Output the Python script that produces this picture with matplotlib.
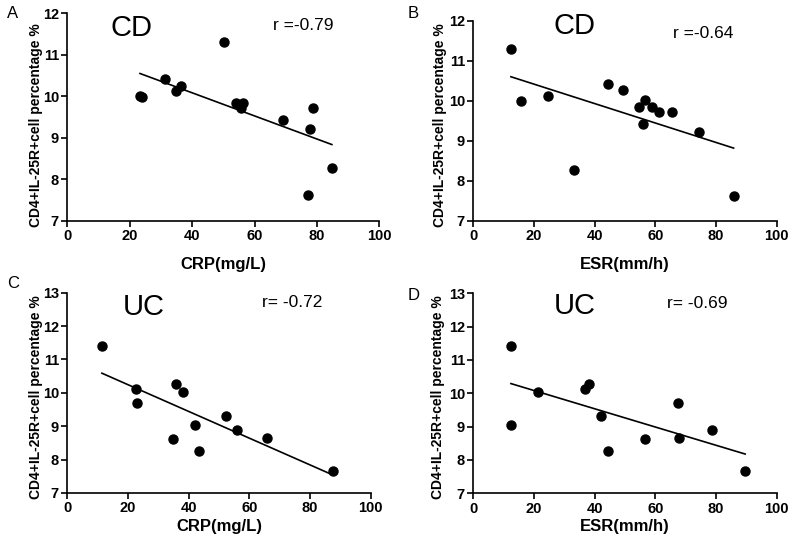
import numpy as np
import matplotlib
matplotlib.use("Agg")
import matplotlib.pyplot as plt

plt.rcParams['font.family'] = ['Liberation Sans', 'DejaVu Sans']
plt.rcParams['font.weight'] = 'bold'

# A: CD, CRP
crp_cd = [23.3, 24.1, 31.4, 34.8, 36.3, 50.3, 54.2, 55.7, 56.3, 69.2, 77.7, 78.7, 77.0, 84.8]
pct_cd_crp = [10.02, 9.99, 10.42, 10.13, 10.26, 11.30, 9.85, 9.73, 9.85, 9.43, 9.21, 9.73, 7.62, 8.28]

# B: CD, ESR
esr_cd = [12.4, 15.8, 24.6, 33.2, 44.4, 49.2, 54.6, 56.7, 55.9, 58.9, 61.3, 65.4, 74.3, 85.8]
pct_cd_esr = [11.30, 10.01, 10.12, 8.28, 10.43, 10.28, 9.84, 10.03, 9.43, 9.86, 9.73, 9.73, 9.22, 7.62]

# C: UC, CRP
crp_uc = [11.4, 22.7, 23.1, 34.8, 35.9, 38.1, 42.2, 43.4, 52.2, 56.0, 65.8, 87.7]
pct_uc_crp = [11.40, 10.12, 9.71, 8.63, 10.27, 10.02, 9.05, 8.27, 9.31, 8.88, 8.66, 7.67]

# D: UC, ESR
esr_uc = [12.4, 12.4, 21.3, 36.9, 38.0, 42.1, 44.5, 56.5, 67.6, 67.8, 78.6, 89.6]
pct_uc_esr = [11.42, 9.05, 10.03, 10.12, 10.27, 9.32, 8.28, 8.63, 9.71, 8.65, 8.89, 7.66]

groups = ["CD", "CD", "UC", "UC"]
r_texts = ["r =-0.79", "r =-0.64", "r= -0.72", "r= -0.69"]
letters = ["A", "B", "C", "D"]
xlabels = ["CRP(mg/L)", "ESR(mm/h)", "CRP(mg/L)", "ESR(mm/h)"]
ylabel = "CD4+IL-25R+cell percentage %"
ytops = [12, 12, 13, 13]
xticks = [0, 20, 40, 60, 80, 100]

W, H = 796, 546
fig = plt.figure(figsize=(W / 100, H / 100), dpi=100)

# pixel boxes: left, right, top, bottom
boxes = [(67.3, 379.3, 13.3, 221), (473.3, 776.7, 21, 221),
         (67.3, 370.7, 292.7, 493), (473.3, 776.7, 293.3, 493.3)]
group_pos = [(0.207, 0.929), (0.335, 0.975), (0.253, 0.931), (0.334, 0.934)]
r_pos = [(0.659, 0.94), (0.658, 0.9375), (0.642, 0.949), (0.638, 0.95)]
letter_pos = [(13, 14), (413, 14), (13, 283), (414, 296)]
ylabel_pos = [(36, 125), (440, 125), (36, 397), (438, 397)]
xlabel_y = [264, 264, 526, 526]

data = [(crp_cd, pct_cd_crp), (esr_cd, pct_cd_esr), (crp_uc, pct_uc_crp), (esr_uc, pct_uc_esr)]

for i in range(4):
    l, r, t, b = boxes[i]
    ax = fig.add_axes([l / W, 1 - b / H, (r - l) / W, (b - t) / H])
    x = np.array(data[i][0])
    y = np.array(data[i][1])

    ax.plot(x, y, 'o', color='black', markersize=6.5, clip_on=False)
    k, c = np.polyfit(x, y, 1)
    xx = np.array([x.min(), x.max()])
    ax.plot(xx, k * xx + c, color='black', linewidth=1.2)

    ax.set_xlim(0, 100)
    ax.set_ylim(7, ytops[i])
    ax.set_xticks(xticks)
    ax.set_yticks(range(7, ytops[i] + 1))
    for s in ['top', 'right']:
        ax.spines[s].set_visible(False)
    for s in ['left', 'bottom']:
        ax.spines[s].set_linewidth(1.2)
    ax.tick_params(width=1.2, length=4.5, pad=1.5, labelsize=10.5)

    ax.text(group_pos[i][0], group_pos[i][1], groups[i], transform=ax.transAxes,
            ha='center', va='center', fontsize=21, fontweight='normal')
    ax.text(r_pos[i][0], r_pos[i][1], r_texts[i], transform=ax.transAxes,
            ha='left', va='center', fontsize=12.5, fontweight='normal')

    fig.text(letter_pos[i][0] / W, 1 - letter_pos[i][1] / H, letters[i],
             ha='center', va='center', fontsize=12, fontweight='normal')
    fig.text(ylabel_pos[i][0] / W, 1 - ylabel_pos[i][1] / H, ylabel,
             rotation=90, ha='center', va='center', fontsize=10)
    fig.text((l + r) / 2 / W, 1 - xlabel_y[i] / H, xlabels[i],
             ha='center', va='center', fontsize=12)

fig.savefig("out.png", dpi=100, facecolor='white')
